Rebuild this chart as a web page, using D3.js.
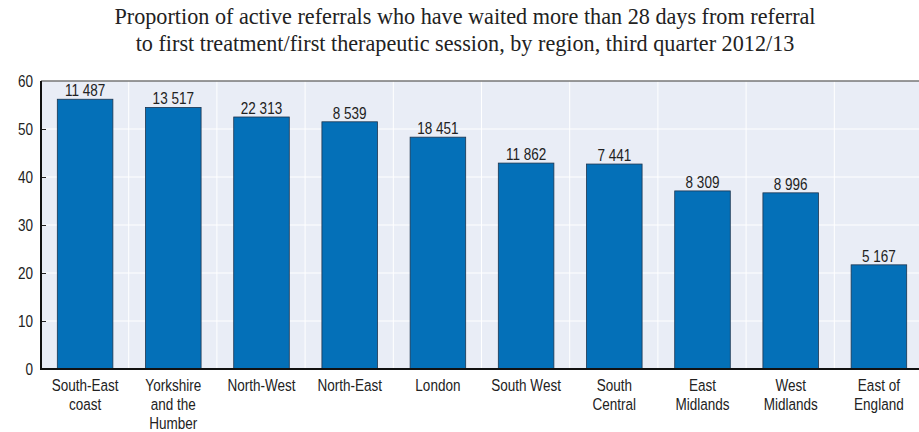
<!DOCTYPE html>
<html>
<head>
<meta charset="utf-8">
<script src="https://cdn.jsdelivr.net/npm/d3@7"></script>
<style>
  html, body { margin: 0; padding: 0; background: #ffffff; }
  svg { display: block; }
  .narrow { font-family: "Liberation Sans Narrow", "Arial Narrow", "Liberation Sans", Arial, sans-serif; }
</style>
</head>
<body>
<svg id="chart" width="919" height="432"></svg>
<script>
// Regions (multi-line labels split on "|")
const regions = [
  "South-East|coast", "Yorkshire|and the|Humber", "North-West", "North-East", "London",
  "South West", "South|Central", "East|Midlands", "West|Midlands", "East of|England"
];
// Share of active referrals waiting more than 28 days (%)
const shareWaiting = [56.2, 54.5, 52.5, 51.5, 48.3, 42.9, 42.7, 37.1, 36.7, 21.7];
// Number of referrals waiting, shown above each bar
const referralCounts = ["11 487", "13 517", "22 313", "8 539", "18 451", "11 862", "7 441", "8 309", "8 996", "5 167"];
const yTicks = [0, 10, 20, 30, 40, 50, 60];
const titleLines = [
  "Proportion of active referrals who have waited more than 28 days from referral",
  "to first treatment/first therapeutic session, by region, third quarter 2012/13"
];

const svg = d3.select("#chart");
const W = 919, H = 432;
const plot = { left: 41, right: 923, top: 81, bottom: 369 };
const FS = 16.5;      // label font size
const SQUEEZE = 0.82; // horizontal condensing for a narrow sans look

// Title
svg.append("g").selectAll("text").data(titleLines).join("text")
  .attr("x", 465).attr("y", (d, i) => 23.5 + i * 27)
  .attr("text-anchor", "middle")
  .style("font-family", "'Liberation Serif', 'Times New Roman', serif")
  .style("font-size", "22.2px").attr("fill", "#222")
  .text(d => d);

const x = d3.scaleBand().domain(regions).range([plot.left, plot.right]).paddingInner(0.37).paddingOuter(0.185);
const y = d3.scaleLinear().domain([0, 60]).range([plot.bottom, plot.top]);

// Plot background
svg.append("rect").attr("x", plot.left).attr("y", plot.top)
  .attr("width", W - plot.left).attr("height", plot.bottom - plot.top)
  .attr("fill", "#e9edf6");

// Horizontal gridlines
svg.append("g").selectAll("line").data(yTicks.slice(1)).join("line")
  .attr("x1", plot.left).attr("x2", W)
  .attr("y1", d => y(d)).attr("y2", d => y(d))
  .attr("stroke", "#ffffff").attr("stroke-width", 1);

// Vertical gridlines at category boundaries
const step = x.step();
svg.append("g").selectAll("line").data(regions.slice(1)).join("line")
  .attr("x1", d => x(d) - x.paddingInner() * step / 2 - 0.5)
  .attr("x2", d => x(d) - x.paddingInner() * step / 2 - 0.5)
  .attr("y1", plot.top).attr("y2", plot.bottom)
  .attr("stroke", "#ffffff").attr("stroke-width", 1);

// Top frame line
svg.append("line").attr("x1", plot.left).attr("x2", W)
  .attr("y1", plot.top).attr("y2", plot.top)
  .attr("stroke", "#333").attr("stroke-width", 1);

// Bars
svg.append("g").selectAll("rect").data(shareWaiting).join("rect")
  .attr("x", (d, i) => x(regions[i]))
  .attr("y", d => y(d))
  .attr("width", x.bandwidth())
  .attr("height", d => y(0) - y(d))
  .attr("fill", "#0470b8")
  .attr("stroke", "#1d3550").attr("stroke-width", 0.8);

// Value labels (condensed)
svg.append("g").attr("class", "narrow").selectAll("g").data(shareWaiting).join("g")
  .attr("transform", (d, i) => `translate(${x(regions[i]) + x.bandwidth() / 2},${y(d) - 3}) scale(${SQUEEZE},1)`)
  .append("text")
  .attr("text-anchor", "middle")
  .style("font-size", FS + "px").attr("fill", "#222")
  .text((d, i) => referralCounts[i]);

// Y axis with inward ticks
const yAxis = d3.axisLeft(y).tickValues(yTicks).tickSize(-5).tickPadding(8).tickFormat(d3.format("d"));
const gy = svg.append("g").attr("transform", `translate(${plot.left},0)`).call(yAxis);
gy.select(".domain").remove();
gy.selectAll(".tick line").attr("stroke", "#222");
gy.selectAll(".tick").filter(d => d === 0 || d === 60).select("line").remove();
gy.selectAll("text").attr("class", "narrow")
  .attr("x", -8 / SQUEEZE)
  .attr("transform", `scale(${SQUEEZE},1)`)
  .style("font-size", FS + "px").attr("fill", "#222");

// Axis lines
svg.append("line").attr("x1", plot.left).attr("x2", plot.left)
  .attr("y1", plot.top).attr("y2", plot.bottom + 1)
  .attr("stroke", "#111").attr("stroke-width", 2);
svg.append("line").attr("x1", plot.left - 1).attr("x2", W)
  .attr("y1", plot.bottom).attr("y2", plot.bottom)
  .attr("stroke", "#111").attr("stroke-width", 2);

// X labels (condensed, multi-line)
const xl = svg.append("g").attr("class", "narrow").selectAll("g").data(regions).join("g")
  .attr("transform", d => `translate(${x(d) + x.bandwidth() / 2},391) scale(${SQUEEZE},1)`)
  .append("text")
  .attr("text-anchor", "middle")
  .style("font-size", FS + "px").attr("fill", "#222");
xl.selectAll("tspan").data(d => d.split("|")).join("tspan")
  .attr("x", 0)
  .attr("dy", (d, i) => i === 0 ? 0 : 19)
  .text(d => d);
</script>
</body>
</html>
